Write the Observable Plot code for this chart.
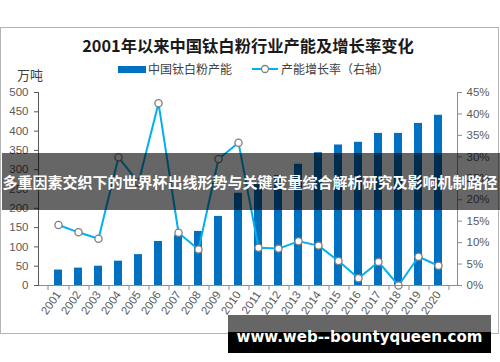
<!DOCTYPE html>
<html>
<head>
<meta charset="utf-8">
<script src="https://cdn.jsdelivr.net/npm/d3@7"></script>
<script src="https://cdn.jsdelivr.net/npm/@observablehq/plot@0.6"></script>
<style>
  html, body { margin: 0; padding: 0; background: #fff; }
  #wrap { position: relative; width: 500px; height: 362px; overflow: hidden; font-family: "Noto Sans CJK SC", "Noto Sans", sans-serif; }
  #wrap svg { position: absolute; left: 0; top: 0; }
  .abs { position: absolute; white-space: nowrap; }
</style>
</head>
<body>
<div id="wrap">
  <div class="abs" style="left:0;top:27px;width:497px;height:305px;border:1px solid #b4b4b4;"></div>
  <div id="chart"></div>
  <div class="abs" id="title" style="left:0;width:496px;top:34px;text-align:center;font-size:16.3px;font-weight:bold;color:#1a1a1a;line-height:22px;"></div>
  <div class="abs" id="unit" style="left:17px;top:65px;font-size:13px;color:#404040;line-height:20px;"></div>
  <div class="abs" style="left:118px;top:66px;width:28px;height:7px;background:#0070C0;"></div>
  <div class="abs" id="leg1" style="left:148px;top:60px;font-size:12px;color:#404040;line-height:18px;"></div>
  <svg class="abs" style="left:250px;top:62px;" width="30" height="14"><line x1="2" y1="7" x2="28" y2="7" stroke="#00B0F0" stroke-width="2"/><circle cx="15" cy="7" r="3.5" fill="#fff" stroke="#7f7f7f" stroke-width="1.3"/></svg>
  <div class="abs" id="leg2" style="left:281px;top:60px;font-size:12px;color:#404040;line-height:18px;"></div>
  <div class="abs" style="left:2px;top:152.5px;width:498px;height:57px;background:rgba(0,0,0,0.6);"></div>
  <div class="abs" id="band" style="left:1px;top:152.5px;width:498px;height:57px;color:#fff;font-weight:bold;font-size:15px;line-height:57px;text-align:center;"></div>
  <div class="abs" id="wm" style="left:228px;top:315px;width:263px;height:38px;background:linear-gradient(#666 0 17.5px,#000 17.5px);"></div>
  <div class="abs" id="wmtext" style="left:228px;width:263px;top:329px;text-align:center;font-family:'DejaVu Sans',sans-serif;font-weight:bold;font-size:15px;line-height:17.5px;color:#fff;"></div>
</div>
<script>
const titleText = "2001年以来中国钛白粉行业产能及增长率变化";
const unitText = "万吨";
const seriesBar = "中国钛白粉产能";
const seriesLine = "产能增长率（右轴）";
const bandText = "多重因素交织下的世界杯出线形势与关键变量综合解析研究及影响机制路径";
const watermark = "www.web--bountyqueen.com";

const years = ["2001","2002","2003","2004","2005","2006","2007","2008","2009","2010",
               "2011","2012","2013","2014","2015","2016","2017","2018","2019","2020"];
const capacity = [40, 45, 50, 63, 80, 114, 129, 140, 179, 239,
                  262, 285, 314, 344, 364, 371, 394, 394, 420, 441];
const growth = [14.1, 12.4, 10.9, 29.9, 24.0, 42.5, 12.3, 8.4, 29.5, 33.3,
                8.8, 8.6, 10.3, 9.3, 5.7, 1.7, 5.5, 0.0, 6.7, 4.6];
const leftTicks = [0, 50, 100, 150, 200, 250, 300, 350, 400, 450, 500];
const rightTicks = [0, 5, 10, 15, 20, 25, 30, 35, 40, 45];

document.getElementById("title").textContent = titleText;
document.getElementById("unit").textContent = unitText;
document.getElementById("leg1").textContent = seriesBar;
document.getElementById("leg2").textContent = seriesLine;
document.getElementById("band").textContent = bandText;
document.getElementById("wmtext").textContent = watermark;

const leftMax = 500, rightMax = 45;
const toLeft = p => p * leftMax / rightMax;

const data = years.map((y, i) => ({year: y, cap: capacity[i], g: growth[i], gy: toLeft(growth[i])}));

const mL = 38, mR = 43;
const bw = (500 - mL - mR) / years.length;

const chart = Plot.plot({
  width: 500,
  height: 362,
  marginLeft: mL,
  marginRight: mR,
  marginTop: 92,
  marginBottom: 77,
  style: {fontFamily: "'Liberation Sans', 'Noto Sans CJK SC', sans-serif", fontSize: "11.5px", color: "#595959", background: "transparent"},
  x: {type: "band", domain: years, paddingInner: 0.6, paddingOuter: 0.3},
  y: {domain: [0, leftMax]},
  marks: [
    Plot.barY(data, {x: "year", y: "cap", fill: "#0070C0"}),
    Plot.line(data, {x: "year", y: "gy", stroke: "#00B0F0", strokeWidth: 2}),
    Plot.dot(data, {x: "year", y: "gy", r: 3.6, fill: "#fff", stroke: "#7f7f7f", strokeWidth: 1.3}),
    Plot.ruleY([0], {stroke: "#8c8c8c"}),
    Plot.frame({anchor: "left", stroke: "#595959"}),
    Plot.frame({anchor: "right", stroke: "#8c8c8c"}),
    Plot.axisY(leftTicks, {anchor: "left", tickSize: 4, tickPadding: 6, label: null, stroke: "#595959", tickFormat: d => String(d)}),
    Plot.axisY(rightTicks.map(toLeft), {anchor: "right", tickSize: 4, tickPadding: 5, label: null, stroke: "#8c8c8c", tickFormat: d => Math.round(d * rightMax / leftMax) + "%"}),
    Plot.axisX(years, {anchor: "bottom", tickSize: 5, dx: bw / 2, tickFormat: () => "", label: null, stroke: "#8c8c8c"}),
    Plot.axisX([years[0]], {anchor: "bottom", tickSize: 5, dx: -bw / 2, tickFormat: () => "", label: null, stroke: "#8c8c8c"}),
    Plot.axisX(years, {anchor: "bottom", tickSize: 0, tickPadding: 7, tickRotate: -55, label: null, fontSize: 11.5, fill: "#595959"})
  ]
});
document.getElementById("chart").appendChild(chart);
</script>
</body>
</html>
